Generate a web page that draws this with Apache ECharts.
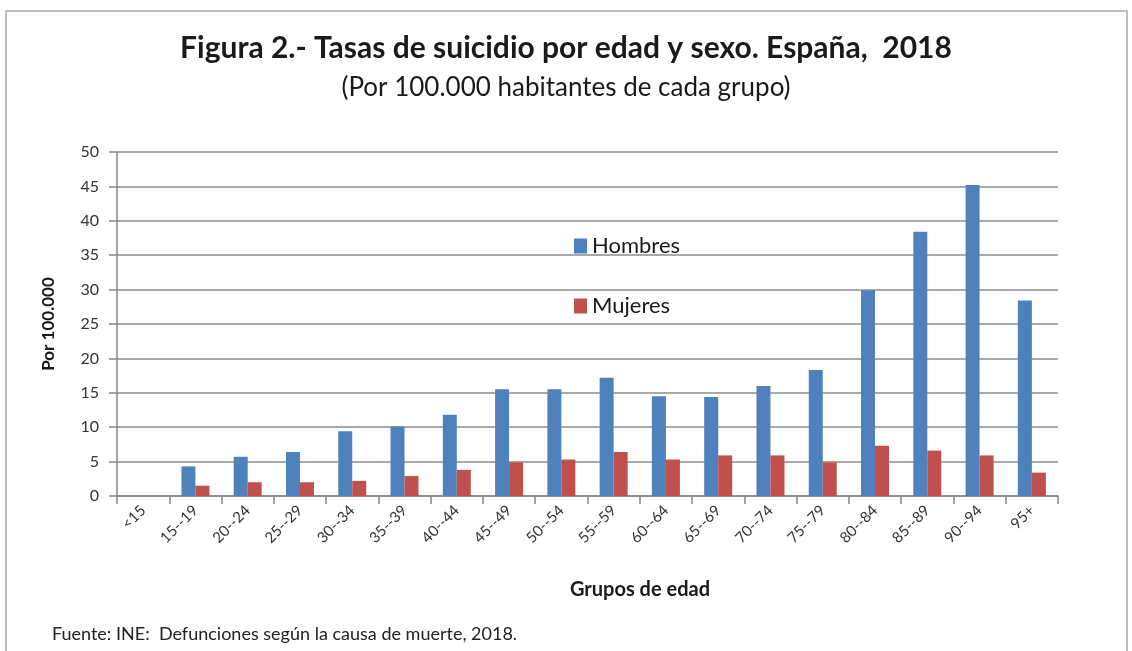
<!DOCTYPE html>
<html>
<head>
<meta charset="utf-8">
<script src="https://cdn.jsdelivr.net/npm/echarts@6/dist/echarts.min.js"></script>
<style>
html,body{margin:0;padding:0;background:#fff;}
#chart{width:1132px;height:651px;}
</style>
</head>
<body>
<div id="chart"></div>
<script>
const categories = ['<15','15--19','20--24','25--29','30--34','35--39','40--44','45--49','50--54','55--59','60--64','65--69','70--74','75--79','80--84','85--89','90--94','95+'];
const hombres = [0, 4.3, 5.7, 6.4, 9.4, 10.1, 11.8, 15.5, 15.5, 17.2, 14.5, 14.4, 16.0, 18.3, 29.9, 38.4, 45.2, 28.4];
const mujeres = [0, 1.5, 2.0, 2.0, 2.2, 2.9, 3.8, 4.9, 5.3, 6.4, 5.3, 5.9, 5.9, 4.9, 7.3, 6.6, 5.9, 3.4];
const yTicks = { min: 0, max: 50, interval: 5 };

const FONT = 'Lato, "Open Sans", sans-serif';
const chart = echarts.init(document.getElementById('chart'), null, { renderer: 'canvas' });
chart.setOption({
  backgroundColor: '#ffffff',
  animation: false,
  textStyle: { fontFamily: FONT },
  title: [
    { text: 'Figura 2.- Tasas de suicidio por edad y sexo. España,  2018', left: 'center', top: 28,
      textStyle: { fontFamily: FONT, fontSize: 30, fontWeight: 'bold', color: '#1a1a1a' } },
    { text: '(Por 100.000 habitantes de cada grupo)', left: 'center', top: 70,
      textStyle: { fontFamily: FONT, fontSize: 26, fontWeight: 'normal', color: '#1a1a1a' } }
  ],
  legend: {
    orient: 'vertical', left: 569, top: 230, itemWidth: 13, itemHeight: 15, itemGap: 38,
    icon: 'rect',
    textStyle: { fontFamily: FONT, fontSize: 22, color: '#1a1a1a', padding: [0,0,0,0] },
    data: ['Hombres', 'Mujeres']
  },
  grid: { left: 117, right: 74, top: 152, bottom: 155, containLabel: false },
  xAxis: {
    type: 'category', data: categories,
    axisLine: { lineStyle: { color: '#868686', width: 1.5 } },
    axisTick: { show: true, length: 8, lineStyle: { color: '#868686', width: 1.5 } },
    axisLabel: { rotate: 45, fontSize: 15, color: '#333', margin: 12, fontFamily: FONT, interval: 0 },
    splitLine: { show: false }
  },
  yAxis: {
    type: 'value', min: yTicks.min, max: yTicks.max, interval: yTicks.interval,
    name: 'Por 100.000', nameLocation: 'middle', nameGap: 60, nameRotate: 90,
    nameTextStyle: { fontFamily: FONT, fontSize: 17, fontWeight: 'bold', color: '#1a1a1a' },
    axisLine: { show: true, lineStyle: { color: '#868686', width: 1.5 } },
    axisTick: { show: true, length: 8, lineStyle: { color: '#868686', width: 1.5 } },
    axisLabel: { fontSize: 16, color: '#333', margin: 18, fontFamily: FONT },
    splitLine: { show: true, lineStyle: { color: '#8c8c8c', width: 1.5 } }
  },
  series: [
    { name: 'Hombres', type: 'bar', data: hombres, barWidth: 14, barGap: '0%',
      itemStyle: { color: '#4F81BD' } },
    { name: 'Mujeres', type: 'bar', data: mujeres, barWidth: 14, barGap: '0%',
      itemStyle: { color: '#C0504D' } }
  ],
  graphic: [
    { type: 'rect', shape: { x: 6, y: 11, width: 1121, height: 660 }, silent: true,
      style: { fill: 'none', stroke: '#bdbdbd', lineWidth: 2 } },
    { type: 'text', style: { text: 'Grupos de edad', x: 640, y: 590, align: 'center', verticalAlign: 'middle',
      font: 'bold 20px ' + FONT, fill: '#1a1a1a' } },
    { type: 'text', style: { text: 'Fuente: INE:  Defunciones según la causa de muerte, 2018.', x: 52, y: 634, align: 'left', verticalAlign: 'middle',
      font: '18px ' + FONT, fill: '#222' } }
  ]
});
</script>
</body>
</html>
